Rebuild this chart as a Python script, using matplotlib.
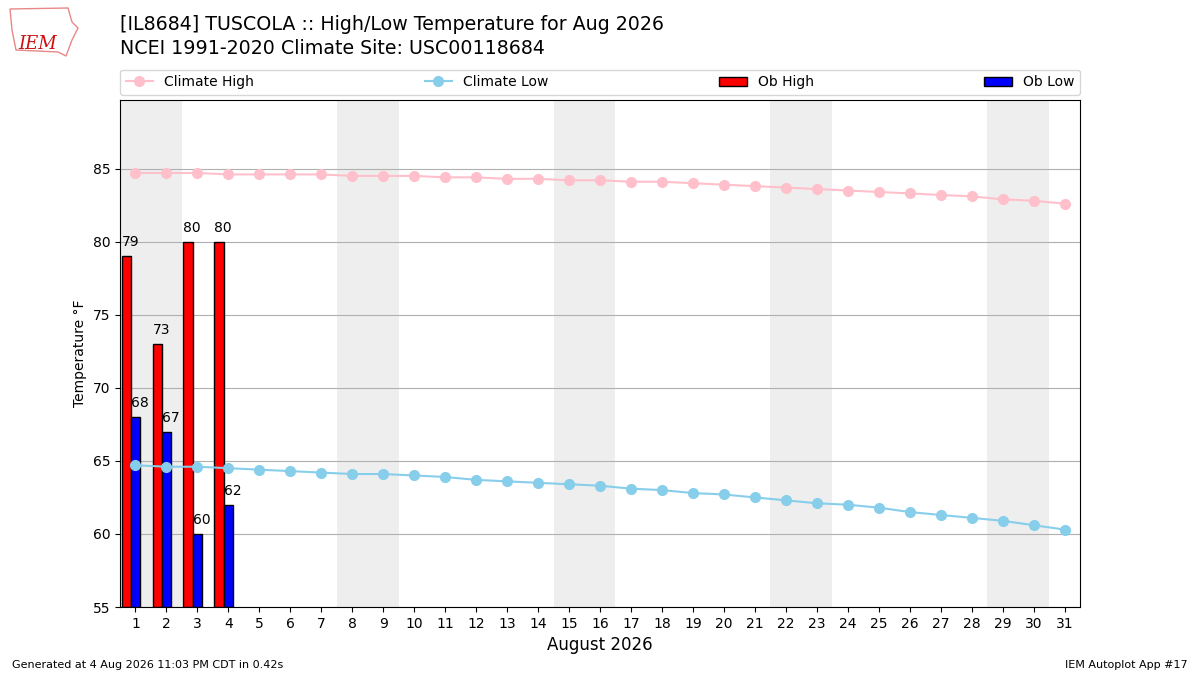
import matplotlib.pyplot as plt
from matplotlib.patches import Patch, Polygon
from matplotlib.lines import Line2D

# === data ===
days = list(range(1, 32))
climate_high = [84.7, 84.7, 84.7, 84.6, 84.6, 84.6, 84.6, 84.5, 84.5, 84.5,
                84.4, 84.4, 84.3, 84.3, 84.2, 84.2, 84.1, 84.1, 84.0, 83.9,
                83.8, 83.7, 83.6, 83.5, 83.4, 83.3, 83.2, 83.1, 82.9, 82.8,
                82.6]
climate_low = [64.7, 64.6, 64.6, 64.5, 64.4, 64.3, 64.2, 64.1, 64.1, 64.0,
               63.9, 63.7, 63.6, 63.5, 63.4, 63.3, 63.1, 63.0, 62.8, 62.7,
               62.5, 62.3, 62.1, 62.0, 61.8, 61.5, 61.3, 61.1, 60.9, 60.6,
               60.3]
ob_days = [1, 2, 3, 4]
ob_high = [79, 73, 80, 80]
ob_low = [68, 67, 60, 62]
weekends = [(1, 2), (8, 9), (15, 16), (22, 23), (29, 30)]

fig = plt.figure(figsize=(12, 6.75), dpi=100)
ax = fig.add_axes([0.1, 0.1007, 0.8, 0.7513])

for a, b in weekends:
    ax.axvspan(a - 0.5, b + 0.5, color="#eeeeee", zorder=0, lw=0)

ymin = 55
ax.bar([d - 0.3 for d in ob_days], [h - ymin for h in ob_high], bottom=ymin,
       width=0.3, color="red", edgecolor="black", zorder=2)
ax.bar(ob_days, [l - ymin for l in ob_low], bottom=ymin,
       width=0.3, color="blue", edgecolor="black", zorder=2)
for d, h, l in zip(ob_days, ob_high, ob_low):
    ax.annotate(f"{h}", (d - 0.45, h), xytext=(0, 5), textcoords="offset points",
                ha="left", va="bottom", fontsize=10, zorder=4)
    ax.annotate(f"{l}", (d - 0.15, l), xytext=(0, 5), textcoords="offset points",
                ha="left", va="bottom", fontsize=10, zorder=4)

ax.plot(days, climate_high, color="pink", marker="o", lw=1.5, ms=7, zorder=3)
ax.plot(days, climate_low, color="skyblue", marker="o", lw=1.5, ms=7, zorder=3)

ax.set_xlim(0.5, 31.5)
ax.set_ylim(55, max(climate_high) + 5)
ax.set_xticks(days)
ax.set_yticks(range(55, 90, 5))
ax.yaxis.grid(True, color="#b0b0b0", lw=0.8)
ax.set_axisbelow(True)
ax.set_xlabel("August 2026", fontsize=12)
ax.set_ylabel("Temperature °F")

handles = [
    Line2D([], [], color="pink", marker="o", lw=1.5, ms=7),
    Line2D([], [], color="skyblue", marker="o", lw=1.5, ms=7),
    Patch(facecolor="red", edgecolor="black"),
    Patch(facecolor="blue", edgecolor="black"),
]
ax.legend(handles, ["Climate High", "Climate Low", "Ob High", "Ob Low"],
          loc="lower left", bbox_to_anchor=(0, 1.01, 1, 0.05), ncol=4,
          mode="expand", borderaxespad=0, fontsize=10)

fig.text(0.1, 0.978, "[IL8684] TUSCOLA :: High/Low Temperature for Aug 2026\n"
         "NCEI 1991-2020 Climate Site: USC00118684",
         fontsize=13.7, va="top", ha="left", linespacing=1.35)
fig.text(0.01, 0.01, "Generated at 4 Aug 2026 11:03 PM CDT in 0.42s", fontsize=8)
fig.text(0.99, 0.01, "IEM Autoplot App #17", fontsize=8, ha="right")

# rough logo: state outline + IEM text
outline_px = [(10, 9), (68, 8), (72, 22), (78, 28), (72, 40), (66, 56),
              (58, 52), (16, 50), (12, 30)]
outline = [(x / 1200, 1 - y / 675) for x, y in outline_px]
fig.patches.append(Polygon(outline, closed=True, fill=False, ec="#e88888",
                           lw=1, transform=fig.transFigure))
fig.text(0.031, 0.935, "IEM", color="#cc1111", fontsize=13, family="serif",
         style="italic", ha="center", va="center")

fig.savefig("out.png", dpi=100)
